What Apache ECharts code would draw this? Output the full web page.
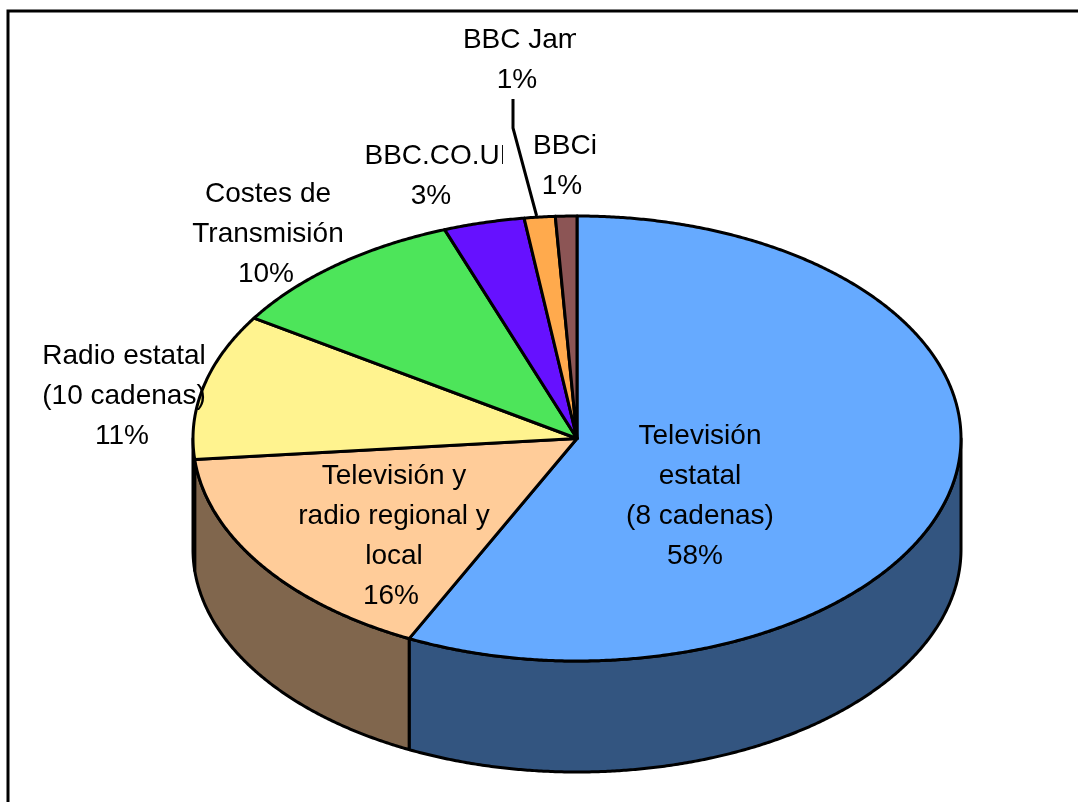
<!DOCTYPE html>
<html>
<head>
<meta charset="utf-8">
<style>html,body{margin:0;padding:0;background:#fff}#c{width:1078px;height:802px}</style>
<script src="https://cdn.jsdelivr.net/npm/echarts@6/dist/echarts.min.js"></script>
</head>
<body>
<div id="c"></div>
<script>
// Data
const categories = ['Televisión\nestatal\n(8 cadenas)', 'Televisión y\nradio regional y\nlocal', 'Radio estatal\n(10 cadenas)', 'Costes de\nTransmisión', 'BBC.CO.UK', 'BBC Jam', 'BBCi'];
const shareLabels = ['58%', '16%', '11%', '10%', '3%', '1%', '1%'];
const sliceValues = [57.2, 16.3, 10.6, 10.3, 3.4, 1.3, 0.9];
const topColors = ['#66AAFF', '#FFCC99', '#FFF38F', '#4DE55A', '#6611FF', '#FFAA4D', '#8C5555'];
const sideColors = ['#335580', '#80664D', '#807A48', '#27732D', '#330980', '#805526', '#462B2B'];

// Layout
const cx = 577, cy = 438.5, rx = 384, ry = 222.5, depth = 111;
const LW = 3;
const FONT = 28, LINE = 40;
const labelCenters = [[700, 436], [394, 476], [124, 356], [268, 194], [441.5, 156], [522, 40], [565, 146]];
const shareCenterX = [695, 391, 122, 266, 431, 517, 562];
const labelClipRight = [null, null, null, null, 503, 576, null];
const leaderIndex = 5, leaderStart = [513, 99], leaderElbow = [513, 128];

const total = sliceValues.reduce((a, b) => a + b, 0);
let run = 0;
const rows = sliceValues.map((v, i) => { const s = run; run += v; return [i, s, run]; });
const ang = v => v / total * 2 * Math.PI;
const pt = (a, dy) => [cx + rx * Math.sin(a), cy - ry * Math.cos(a) + (dy || 0)];
function arc(a0, a1, dy) {
  const n = Math.max(2, Math.ceil((a1 - a0) / 0.006)), out = [];
  for (let k = 0; k <= n; k++) out.push(pt(a0 + (a1 - a0) * k / n, dy));
  return out;
}
const lineStyle = { stroke: '#000', lineWidth: LW, lineJoin: 'round' };

function renderSide(params, api) {
  const i = api.value(0);
  const a0 = Math.max(ang(api.value(1)), Math.PI / 2), a1 = Math.min(ang(api.value(2)), 3 * Math.PI / 2);
  if (a1 <= a0) return { type: 'group', children: [] };
  const pts = arc(a0, a1, 0).concat(arc(a0, a1, depth).reverse());
  return { type: 'polygon', shape: { points: pts }, style: Object.assign({ fill: sideColors[i] }, lineStyle) };
}
function renderTop(params, api) {
  const i = api.value(0);
  const pts = [[cx, cy]].concat(arc(ang(api.value(1)), ang(api.value(2)), 0));
  return { type: 'polygon', shape: { points: pts }, style: Object.assign({ fill: topColors[i] }, lineStyle) };
}
function renderLabel(params, api) {
  const i = api.value(0);
  const lines = categories[i].split('\n');
  const c = labelCenters[i];
  const font = FONT + 'px "Liberation Sans", Arial, sans-serif';
  const children = lines.map((t, k) => ({
    type: 'text',
    style: { text: t, x: c[0], y: c[1] + k * LINE, align: 'center', verticalAlign: 'middle', fill: '#000', font }
  }));
  const g = { type: 'group', children };
  if (labelClipRight[i] != null) {
    g.clipPath = { type: 'rect', shape: { x: 0, y: 0, width: labelClipRight[i], height: 802 } };
  }
  const share = {
    type: 'text',
    style: { text: shareLabels[i], x: shareCenterX[i], y: c[1] + lines.length * LINE, align: 'center', verticalAlign: 'middle', fill: '#000', font }
  };
  const kids = [g, share];
  if (i === leaderIndex) {
    const mid = ang((api.value(1) + api.value(2)) / 2);
    kids.push({ type: 'polyline', shape: { points: [leaderStart, leaderElbow, [pt(mid)[0] - 3, cy - ry]] }, style: { stroke: '#000', lineWidth: LW, fill: null } });
  }
  return { type: 'group', children: kids };
}

const chart = echarts.init(document.getElementById('c'), null, { renderer: 'canvas' });
chart.setOption({
  animation: false,
  backgroundColor: '#fff',
  graphic: [
    { type: 'polyline', silent: true, shape: { points: [[8, 802], [8, 11], [1078, 11]] }, style: { stroke: '#000', lineWidth: 3, fill: null } }
  ],
  series: [
    { type: 'custom', coordinateSystem: 'none', z: 1, data: rows, renderItem: renderSide, silent: true },
    { type: 'custom', coordinateSystem: 'none', z: 2, data: rows, renderItem: renderTop, silent: true },
    { type: 'custom', coordinateSystem: 'none', z: 3, data: rows, renderItem: renderLabel, silent: true }
  ]
});
</script>
</body>
</html>
